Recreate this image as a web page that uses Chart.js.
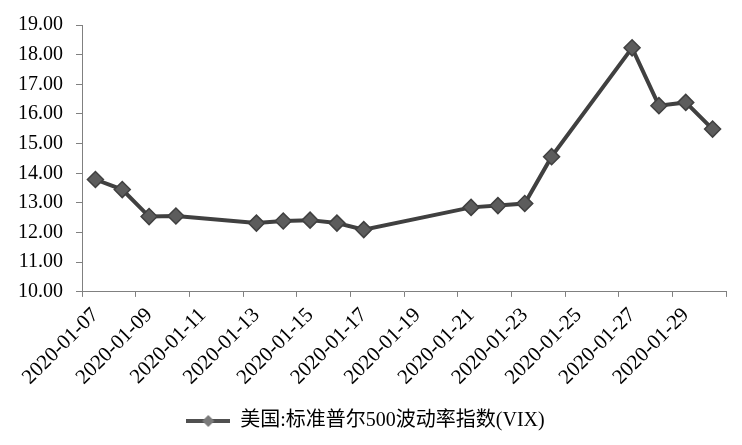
<!DOCTYPE html>
<html>
<head>
<meta charset="utf-8">
<script src="https://cdn.jsdelivr.net/npm/chart.js@4/dist/chart.umd.min.js"></script>
<style>
  html, body { margin: 0; padding: 0; background: #fff; }
  #wrap { width: 742px; height: 445px; }
</style>
</head>
<body>
<div id="wrap"><canvas id="vix"></canvas></div>
<script>
const dates = [
  "2020-01-07", "2020-01-08", "2020-01-09", "2020-01-10",
  "2020-01-13", "2020-01-14", "2020-01-15", "2020-01-16", "2020-01-17",
  "2020-01-21", "2020-01-22", "2020-01-23", "2020-01-24",
  "2020-01-27", "2020-01-28", "2020-01-29", "2020-01-30"
];
const vix = [
  13.79, 13.45, 12.54, 12.56,
  12.32, 12.39, 12.42, 12.32, 12.10,
  12.85, 12.91, 12.98, 14.56,
  18.23, 16.28, 16.39, 15.49
];
const tickLabels = [
  "2020-01-07", "2020-01-09", "2020-01-11", "2020-01-13", "2020-01-15", "2020-01-17",
  "2020-01-19", "2020-01-21", "2020-01-23", "2020-01-25", "2020-01-27", "2020-01-29"
];
const seriesName = "美国:标准普尔500波动率指数(VIX)";

const DAY = 86400000;
const start = Date.parse(dates[0]);
// day index from first date, points sit in the middle of each day slot
const dayIdx = (d) => (Date.parse(d) - start) / DAY;
const points = dates.map((d, i) => ({ x: dayIdx(d), y: vix[i] }));
const lastDay = dayIdx(dates[dates.length - 1]);

// legend symbol: line with a diamond
function legendSymbol() {
  const c = document.createElement("canvas");
  c.width = 44;
  c.height = 14;
  const g = c.getContext("2d");
  g.strokeStyle = "#505050";
  g.lineWidth = 4;
  g.beginPath();
  g.moveTo(0, 7);
  g.lineTo(44, 7);
  g.stroke();
  g.fillStyle = "#7a7a7a";
  g.beginPath();
  g.moveTo(22, 1);
  g.lineTo(28, 7);
  g.lineTo(22, 13);
  g.lineTo(16, 7);
  g.closePath();
  g.fill();
  return c;
}

const serif = "'Liberation Serif', 'Times New Roman', 'Noto Sans CJK SC', serif";

new Chart(document.getElementById("vix"), {
  type: "line",
  data: {
    datasets: [{
      label: seriesName,
      data: points,
      borderColor: "#404040",
      borderWidth: 4,
      backgroundColor: "#5c5c5c",
      pointStyle: "rectRot",
      pointRadius: 8,
      pointBorderColor: "#404040",
      pointBorderWidth: 1.5,
      pointBackgroundColor: "#5c5c5c",
      tension: 0,
      fill: false
    }]
  },
  options: {
    responsive: true,
    maintainAspectRatio: false,
    animation: false,
    layout: { padding: { left: 5, right: 16, top: 15, bottom: 4 } },
    plugins: {
      tooltip: { enabled: false },
      legend: {
        position: "bottom",
        labels: {
          usePointStyle: true,
          pointStyle: legendSymbol(),
          pointStyleWidth: 44,
          color: "#000",
          font: { family: serif, size: 20 },
          padding: 15
        }
      }
    },
    scales: {
      x: {
        type: "linear",
        min: -0.5,
        max: lastDay + 0.5,
        afterBuildTicks: (scale) => {
          const t = [];
          for (let v = -0.5; v <= lastDay + 0.5; v += 2) t.push({ value: v });
          scale.ticks = t;
        },
        // rotated labels hang to the left, no need for the extra side padding
        afterFit: (scale) => {
          scale.paddingLeft = 0;
          scale.paddingRight = 0;
        },
        grid: { display: true, drawOnChartArea: false, drawTicks: true, tickLength: 5, tickColor: "#808080" },
        border: { display: true, color: "#808080", width: 1 },
        ticks: {
          autoSkip: false,
          minRotation: 45,
          maxRotation: 45,
          labelOffset: 13.5,
          padding: 6,
          color: "#000",
          font: { family: serif, size: 21 },
          callback: (v) => tickLabels[Math.round((v + 0.5) / 2)] || ""
        }
      },
      y: {
        min: 10,
        max: 19,
        grid: { display: true, drawOnChartArea: false, drawTicks: true, tickLength: 6, tickColor: "#808080" },
        border: { display: true, color: "#808080", width: 1 },
        ticks: {
          stepSize: 1,
          padding: 13,
          color: "#000",
          font: { family: serif, size: 20 },
          callback: (v) => v.toFixed(2)
        }
      }
    }
  }
});
</script>
</body>
</html>
